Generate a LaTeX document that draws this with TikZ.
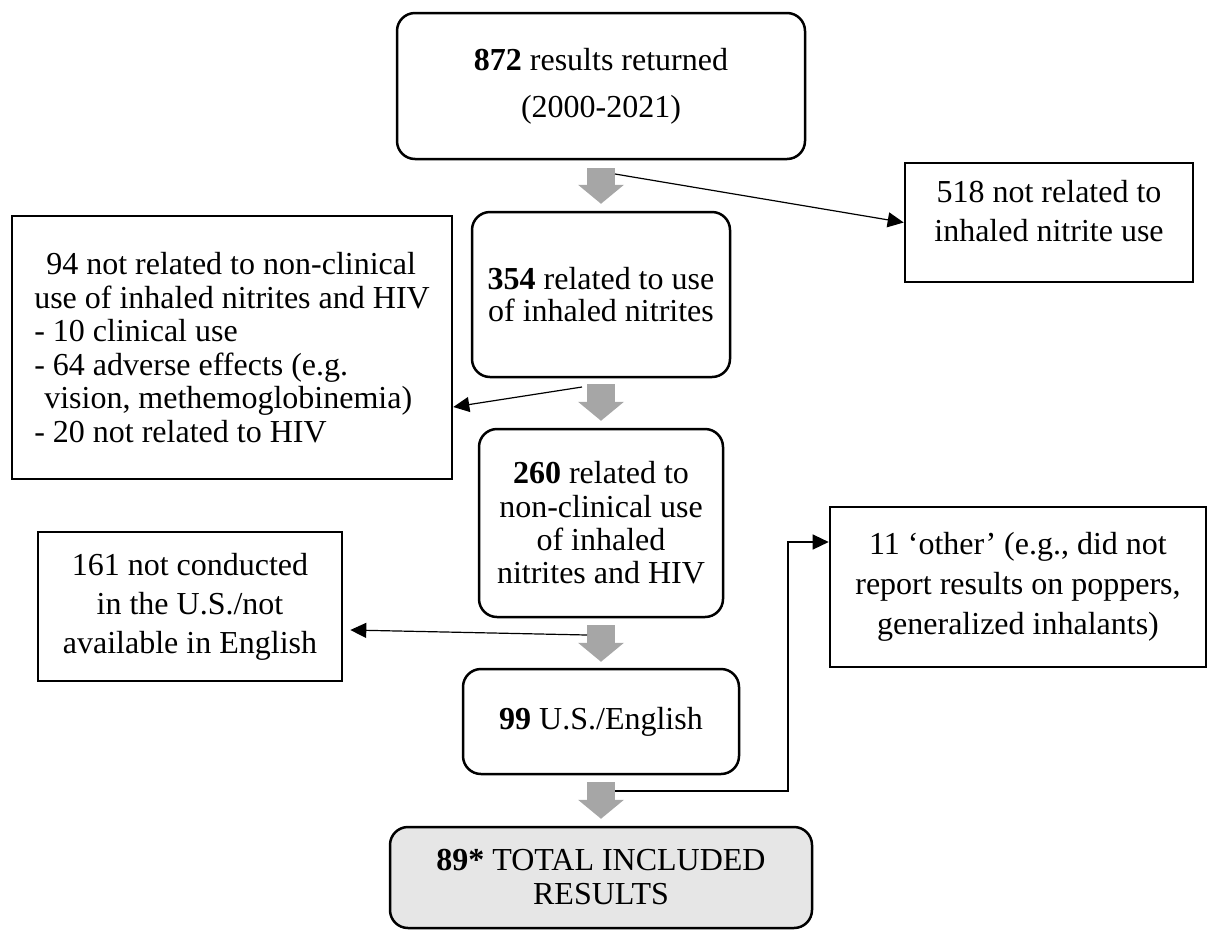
\documentclass[tikz,border=0pt]{standalone}
\usepackage{fontspec}
\setmainfont{Liberation Serif}
\usetikzlibrary{arrows.meta}
\definecolor{arrowgray}{HTML}{A6A6A6}
\definecolor{totalfill}{HTML}{E6E6E6}

\begin{document}
\begin{tikzpicture}[
    x=1pt, y=-1pt,
    font=\fontsize{32}{33.5}\selectfont,
    flow/.style={draw, line width=2.5pt, rounded corners=18pt, align=center, inner sep=0pt},
    side/.style={draw, line width=2.6pt, align=center, inner sep=0pt},
    down/.style={arrowgray, line width=28pt, -{Triangle[length=19pt, width=46pt, line width=0pt]}},
    link/.style={line width=1.2pt, -{Triangle[length=16pt, width=15pt]}}
]
\useasboundingbox (0,0) rectangle (1210,930);

% Main column
\node[flow, minimum width=408pt, minimum height=146pt, font=\fontsize{32}{47}\selectfont] (n872) at (601,86) {\textbf{872} results returned\\(2000-2021)};
\node[flow, minimum width=258pt, minimum height=165pt, font=\fontsize{32}{32}\selectfont] (n354) at (601,294.5) {\textbf{354} related to use\\of inhaled nitrites};
\node[flow, minimum width=244pt, minimum height=188pt, font=\fontsize{32}{33.3}\selectfont] (n260) at (601,523) {\textbf{260} related to\\non-clinical use\\of inhaled\\nitrites and HIV};
\node[flow, minimum width=276pt, minimum height=105pt] (n99) at (601,721.5) {\textbf{99} U.S./English};
\node[flow, fill=totalfill, minimum width=422pt, minimum height=101pt, font=\fontsize{32}{34}\selectfont] (n89) at (601,877.5) {\textbf{89*} TOTAL INCLUDED\\RESULTS};

% Excluded
\node[side, minimum width=288pt, minimum height=119pt, font=\fontsize{32}{39}\selectfont] (n518) at (1049,222.5) {518 not related to\\inhaled nitrite use\\[-15pt]\mbox{}};
\node[side, minimum width=440pt, minimum height=263pt, align=left] (n94) at (232,347.5) {\hspace*{12pt}94 not related to non-clinical\\use of inhaled nitrites and HIV\\- 10 clinical use\\- 64 adverse effects (e.g.\\\hspace*{10pt}vision, methemoglobinemia)\\- 20 not related to HIV};
\node[side, minimum width=304pt, minimum height=149pt, font=\fontsize{32}{39}\selectfont] (n161) at (190,606.5) {161 not conducted\\in the U.S./not\\available in English};
\node[side, minimum width=376pt, minimum height=160pt, font=\fontsize{32}{40}\selectfont] (n11) at (1018,587) {11 ‘other’ (e.g., did not\\report results on poppers,\\generalized inhalants)};

% Block arrows
\draw[down, shorten <=8pt, shorten >=7pt] (n872) -- (n354);
\draw[down, shorten <=6pt, shorten >=7pt] (n354) -- (n260);
\draw[down, shorten <=7pt, shorten >=6pt] (n260) -- (n99);
\draw[down, shorten <=7pt, shorten >=7pt] (n99) -- (n89);

% Side links
\coordinate (s1) at (615,174);
\coordinate (s2) at (582,387);
\coordinate (s3) at (587,635);
\coordinate (s4) at (615,791);
\draw[link] (s1) -- (n518.west);
\draw[link] (s2) -- ([yshift=-59.5pt]n94.east);
\draw[link] (s3) -- ([xshift=7pt, yshift=-23.5pt]n161.east);
\draw[link] (s4) -- ++(173,0) |- ([yshift=45pt]n11.west);

\end{tikzpicture}
\end{document}
